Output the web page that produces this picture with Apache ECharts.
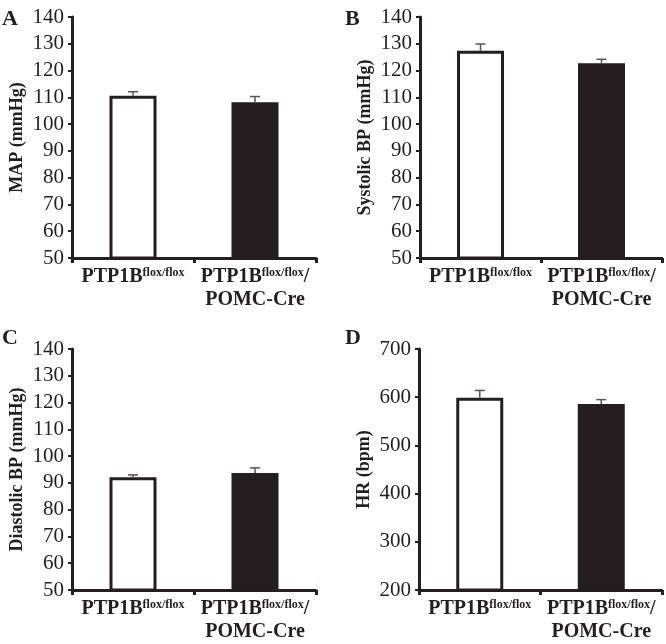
<!DOCTYPE html>
<html>
<head>
<meta charset="utf-8">
<script src="https://cdn.jsdelivr.net/npm/echarts@6/dist/echarts.min.js"></script>
<style>
html,body{margin:0;padding:0;background:#fff;}
#chart{width:666px;height:644px;}
</style>
</head>
<body>
<div id="chart"></div>
<script>
// ---- data ----
var catBase = ['PTP1B', 'PTP1B'];
var catSup = ['flox/flox', 'flox/flox'];
var catTail = ['', '/'];
var catLine2 = ['', 'POMC-Cre'];
var categories = ['PTP1B flox/flox', 'PTP1B flox/flox/ POMC-Cre'];

var mapMean = [110.6, 108.2];
var mapErr = [1.5, 2.1];
var sysMean = [127.4, 122.7];
var sysErr = [2.5, 1.5];
var diaMean = [92.1, 93.7];
var diaErr = [0.9, 1.9];
var hrMean = [599, 586];
var hrErr = [15, 9];

var panelLetters = ['A', 'B', 'C', 'D'];
var yNames = ['MAP (mmHg)', 'Systolic BP (mmHg)', 'Diastolic BP (mmHg)', 'HR (bpm)'];
var yMin = [50, 50, 50, 200];
var yMax = [140, 140, 140, 700];
var yStep = [10, 10, 10, 100];

var means = [mapMean, sysMean, diaMean, hrMean];
var errs = [mapErr, sysErr, diaErr, hrErr];

// ---- layout ----
var INK = '#231f20';
var SERIF = '"Liberation Serif", "Times New Roman", serif';
var grids = [
  {left: 72, top: 17, width: 244, height: 241},
  {left: 420, top: 17, width: 242, height: 241},
  {left: 72, top: 349, width: 244, height: 241},
  {left: 419, top: 349, width: 243, height: 241}
];
var letterPos = [[2, 8], [345, 8], [2, 327], [345, 327]];

var option = {
  backgroundColor: '#fff',
  animation: false,
  grid: grids,
  xAxis: [], yAxis: [], series: [],
  graphic: []
};

for (var p = 0; p < 4; p++) {
  option.xAxis.push({
    type: 'category', gridIndex: p, data: categories,
    boundaryGap: true,
    axisLine: {lineStyle: {color: INK, width: 3}},
    axisTick: {show: true, length: 5, lineStyle: {color: INK, width: 3}},
    axisLabel: {
      margin: 7, interval: 0,
      formatter: function (v, i) {
        var s = '{b|' + catBase[i] + '}{s|' + catSup[i] + '}';
        if (catTail[i]) s += '{b|' + catTail[i] + '}';
        if (catLine2[i]) s += '\n{b|' + catLine2[i] + '}';
        return s;
      },
      rich: {
        b: {fontFamily: SERIF, fontWeight: 'bold', fontSize: 20, color: INK, lineHeight: 23},
        s: {fontFamily: SERIF, fontWeight: 'bold', fontSize: 12, color: INK, lineHeight: 12, verticalAlign: 'top', padding: [2, 0, 0, 0]}
      }
    },
    splitLine: {show: false}
  });
  option.yAxis.push({
    type: 'value', gridIndex: p, min: yMin[p], max: yMax[p], interval: yStep[p],
    name: yNames[p], nameLocation: 'middle', nameGap: 46, nameRotate: 90,
    nameTextStyle: {fontFamily: SERIF, fontWeight: 'bold', fontSize: 18, color: INK},
    axisLine: {show: true, lineStyle: {color: INK, width: 3}},
    axisTick: {show: true, length: 4, lineStyle: {color: INK, width: 2}},
    axisLabel: {margin: 8, fontFamily: SERIF, fontSize: 21, color: INK},
    splitLine: {show: false}
  });
  option.series.push({
    type: 'bar', xAxisIndex: p, yAxisIndex: p, barWidth: 47,
    data: means[p].map(function (v, i) {
      return {
        value: v,
        itemStyle: i === 0
          ? {color: '#ffffff', borderColor: INK, borderWidth: 3}
          : {color: INK, borderColor: INK, borderWidth: 3}
      };
    }),
    z: 2
  });
  option.series.push({
    type: 'custom', xAxisIndex: p, yAxisIndex: p, z: 3,
    data: means[p].map(function (v, i) { return [i, v, v + errs[p][i]]; }),
    renderItem: function (params, api) {
      var base = api.coord([api.value(0), api.value(1)]);
      var top = api.coord([api.value(0), api.value(2)]);
      var hw = 5;
      return {
        type: 'group',
        children: [
          {type: 'line', shape: {x1: base[0], y1: base[1], x2: top[0], y2: top[1]}, style: {stroke: '#555', lineWidth: 1.5}},
          {type: 'line', shape: {x1: top[0] - hw, y1: top[1], x2: top[0] + hw, y2: top[1]}, style: {stroke: '#555', lineWidth: 1.5}}
        ]
      };
    }
  });
  option.graphic.push({
    type: 'text', left: letterPos[p][0], top: letterPos[p][1],
    style: {text: panelLetters[p], font: 'bold 22px ' + SERIF, fill: INK}
  });
}

var chart = echarts.init(document.getElementById('chart'), null, {renderer: 'canvas'});
chart.setOption(option);
</script>
</body>
</html>
